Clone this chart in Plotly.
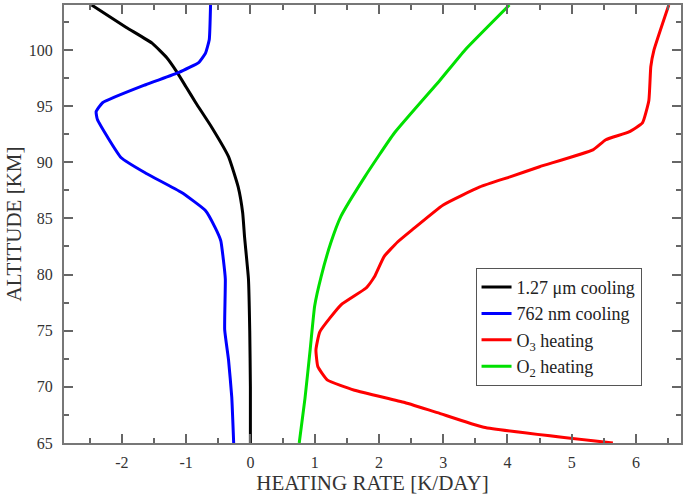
import plotly.graph_objects as go

# Altitude (km) and heating rate (K/day)
alt_127 = [104.0, 102.0, 100.6, 99.3, 98.0, 96.7, 95.3, 93.1, 90.5, 87.8, 85.5, 83.3, 79.6, 75.0, 70.0, 65.0]
rate_127 = [-2.47, -1.93, -1.53, -1.30, -1.14, -1.0, -0.85, -0.60, -0.34, -0.19, -0.12, -0.09, -0.03, -0.01, 0.0, 0.0]

alt_762 = [104.0, 100.9, 99.7, 98.9, 98.0, 96.9, 95.3, 94.5, 93.8, 90.4, 89.0, 87.3, 85.7, 84.2, 83.0, 81.3, 79.6, 75.1, 72.4, 69.1, 65.0]
rate_762 = [-0.62, -0.64, -0.70, -0.80, -1.11, -1.63, -2.30, -2.40, -2.38, -2.01, -1.62, -1.07, -0.70, -0.55, -0.46, -0.42, -0.39, -0.40, -0.34, -0.29, -0.26]

alt_o3 = [104.0, 100.0, 98.5, 95.5, 93.5, 92.7, 92.0, 91.1, 89.6, 88.7, 87.8, 86.2, 84.0, 82.9, 81.6, 79.8, 78.8, 77.3, 74.9, 73.3, 71.8, 70.6, 69.7, 68.6, 67.7, 66.4, 65.0]
rate_o3 = [6.51, 6.28, 6.23, 6.20, 6.10, 5.89, 5.53, 5.33, 4.50, 4.04, 3.57, 3.00, 2.52, 2.29, 2.08, 1.93, 1.80, 1.41, 1.08, 1.02, 1.05, 1.20, 1.62, 2.40, 2.91, 3.63, 5.64]

alt_o2 = [104.0, 100.0, 97.3, 92.6, 88.7, 85.2, 82.8, 79.8, 77.2, 73.3, 69.0, 65.0]
rate_o2 = [4.03, 3.34, 2.95, 2.24, 1.78, 1.41, 1.25, 1.10, 1.00, 0.93, 0.85, 0.76]

x_ticks = [-2, -1, 0, 1, 2, 3, 4, 5, 6]
x_labels = ["-2", "-1", "0", "1", "2", "3", "4", "5", "6"]
y_ticks = [65, 70, 75, 80, 85, 90, 95, 100]

fig = go.Figure()
series = [
    ("1.27 μm cooling", rate_127, alt_127, "black"),
    ("762 nm cooling", rate_762, alt_762, "#0000ff"),
    ("O<sub>3</sub> heating", rate_o3, alt_o3, "#ff0000"),
    ("O<sub>2</sub> heating", rate_o2, alt_o2, "#00e000"),
]
for name, x, y, c in series:
    fig.add_trace(go.Scatter(x=x, y=y, mode="lines", name=name,
                             line=dict(color=c, width=3, shape="spline", smoothing=0.4)))

axis_common = dict(
    showgrid=False, zeroline=False, showline=True, linecolor="#777777", linewidth=2,
    ticks="inside", ticklen=9, tickwidth=1.5, tickcolor="#666666", mirror="allticks",
    tickfont=dict(family="Liberation Serif", size=16, color="#333333"),
)
title_font = dict(family="Liberation Serif", size=21, color="#333333")
fig.update_xaxes(range=[-2.9, 6.7], tickvals=x_ticks, ticktext=x_labels, ticklabelstandoff=4,
                 minor=dict(dtick=0.5, tick0=0, ticks="inside", ticklen=5, tickcolor="#666666", tickwidth=1.5),
                 title=dict(text="HEATING RATE [K/DAY]", font=title_font, standoff=4),
                 **axis_common)
fig.update_yaxes(range=[65, 104], tickvals=y_ticks, ticklabelstandoff=6,
                 minor=dict(dtick=2.5, tick0=65, ticks="inside", ticklen=5, tickcolor="#666666", tickwidth=1.5),
                 title=dict(text="ALTITUDE [KM]", font=title_font, standoff=1),
                 **axis_common)

fig.update_layout(
    width=683, height=495,
    margin=dict(l=64, r=0, t=5, b=52),
    plot_bgcolor="white", paper_bgcolor="white",
    legend=dict(x=0.667, y=0.40, xanchor="left", yanchor="top",
                bordercolor="#555555", borderwidth=1, bgcolor="white",
                font=dict(family="Liberation Serif", size=18, color="#222222"),
                tracegroupgap=0, itemwidth=30),
    showlegend=True,
)
fig.write_html("out.html")
